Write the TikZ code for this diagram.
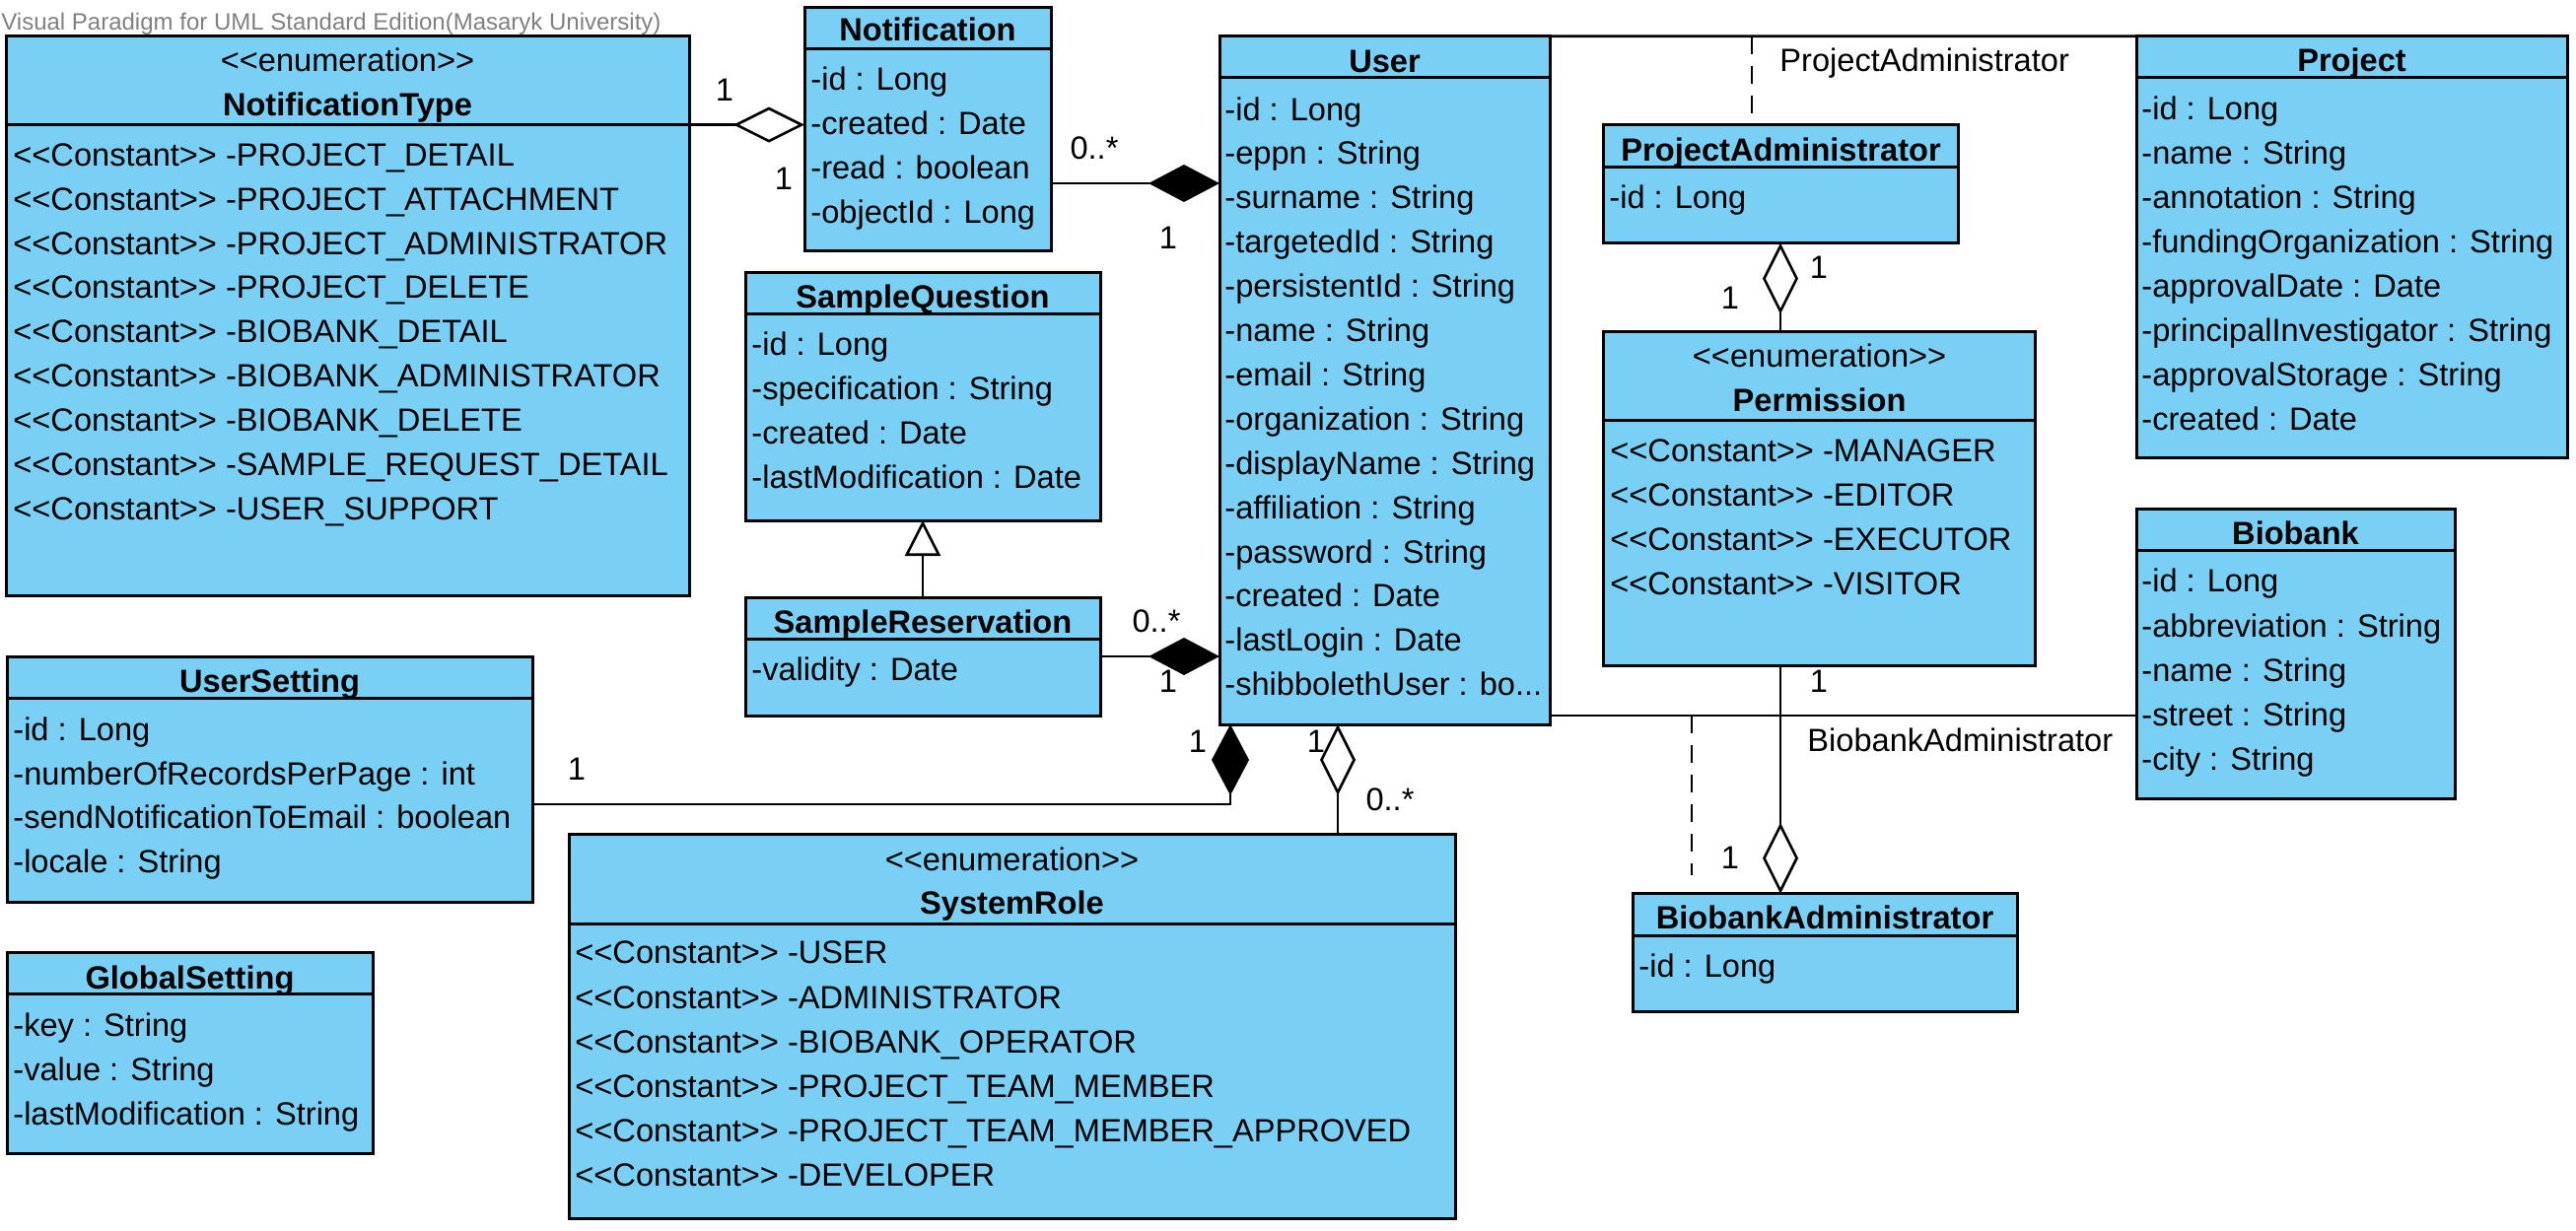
\documentclass[tikz,border=0pt]{standalone}
\usepackage{fontspec}
\setmainfont{Liberation Sans}[Ligatures=TeXOff]
\usetikzlibrary{arrows.meta,fit}
\definecolor{clsfill}{RGB}{122,207,245}
\definecolor{wmgray}{RGB}{128,128,128}
\newcommand\fs{\fontsize{16.3pt}{19pt}\selectfont}
\newcommand\classrows[5]{\foreach \t [count=\i from 0] in {#5} {\node[row] (#1\i) at (#2,{#3+#4*\i+11.5}) {\t};}}
\tikzset{
 cls/.style={draw=black, line width=1.5pt, fill=clsfill, inner sep=0pt, outer sep=0pt},
 sepline/.style={line width=1.5pt},
 row/.style={anchor=base west, inner sep=0pt, font=\fs},
 ttl/.style={anchor=base, inner sep=0pt, font=\fs\bfseries},
 ster/.style={anchor=base, inner sep=0pt, font=\fs},
 mult/.style={anchor=center, inner sep=0pt, font=\fs},
 alabel/.style={anchor=base west, inner sep=0pt, font=\fs},
 conn/.style={line width=1.3pt},
 odia/.style={conn, -{Diamond[open, length=36pt, width=18pt]}},
 fdia/.style={conn, -{Diamond[length=36pt, width=19pt]}},
 gen/.style={conn, -{Triangle[open, length=18pt, width=18pt]}},
 acls/.style={conn, dash pattern=on 9pt off 6pt},
}
\begin{document}
\begin{tikzpicture}[x=0.5pt, y=-0.5pt]
\useasboundingbox[fill=white] (0,0) rectangle (2613,1248);

\node[anchor=base west, inner sep=0pt, text=wmgray, font=\fontsize{12pt}{14pt}\selectfont] (wm) at (1,30) {Visual Paradigm for UML Standard Edition(Masaryk University)};

% ---------- boxes ----------
\node[cls, fit={(6,36.4) (699,604)}] (ntype) {};
\node[cls, fit={(816,7) (1066,254)}] (notif) {};
\node[cls, fit={(1237,36.7) (1572,735)}] (user) {};
\node[cls, fit={(756,276.5) (1116,528)}] (squest) {};
\node[cls, fit={(756,606) (1116,726)}] (sres) {};
\node[cls, fit={(7,666.5) (540,915.5)}] (uset) {};
\node[cls, fit={(7,966) (378,1170)}] (gset) {};
\node[cls, fit={(577,846.7) (1476,1236)}] (sysrole) {};
\node[cls, fit={(2167,36.7) (2604,464.4)}] (project) {};
\node[cls, fit={(1626.7,126.7) (1986.6,246.7)}] (projadmin) {};
\node[cls, fit={(1626.7,336.8) (2064.6,675.5)}] (perm) {};
\node[cls, fit={(2167,516.7) (2490,810)}] (biobank) {};
\node[cls, fit={(1656.4,906.7) (2046,1026.5)}] (badmin) {};

% header separators
\draw[sepline] (ntype.west |- 0,126.6) -- (ntype.east |- 0,126.6);
\draw[sepline] (notif.west |- 0,49) -- (notif.east |- 0,49);
\draw[sepline] (user.west |- 0,78.3) -- (user.east |- 0,78.3);
\draw[sepline] (squest.west |- 0,318.5) -- (squest.east |- 0,318.5);
\draw[sepline] (sres.west |- 0,648.5) -- (sres.east |- 0,648.5);
\draw[sepline] (uset.west |- 0,708) -- (uset.east |- 0,708);
\draw[sepline] (gset.west |- 0,1008) -- (gset.east |- 0,1008);
\draw[sepline] (sysrole.west |- 0,937) -- (sysrole.east |- 0,937);
\draw[sepline] (project.west |- 0,78.5) -- (project.east |- 0,78.5);
\draw[sepline] (projadmin.west |- 0,169) -- (projadmin.east |- 0,169);
\draw[sepline] (perm.west |- 0,426) -- (perm.east |- 0,426);
\draw[sepline] (biobank.west |- 0,558.6) -- (biobank.east |- 0,558.6);
\draw[sepline] (badmin.west |- 0,949) -- (badmin.east |- 0,949);

% ---------- titles ----------
\node[ster] (ntype-st) at (352.5,72.5) {<<enumeration>>};
\node[ttl] (ntype-t) at (352.5,117.5) {NotificationType};
\node[ttl] (notif-t) at (941,41.5) {Notification};
\node[ttl] (user-t) at (1404.5,73) {User};
\node[ttl] (squest-t) at (936,312.5) {SampleQuestion};
\node[ttl] (sres-t) at (936,642.5) {SampleReservation};
\node[ttl] (uset-t) at (273.5,702.5) {UserSetting};
\node[ttl] (gset-t) at (192.5,1003) {GlobalSetting};
\node[ster] (sysrole-st) at (1026.5,883) {<<enumeration>>};
\node[ttl] (sysrole-t) at (1026.5,927.5) {SystemRole};
\node[ttl] (project-t) at (2385.5,72.5) {Project};
\node[ttl] (projadmin-t) at (1806.6,163) {ProjectAdministrator};
\node[ster] (perm-st) at (1845.6,372.5) {<<enumeration>>};
\node[ttl] (perm-t) at (1845.6,417.5) {Permission};
\node[ttl] (biobank-t) at (2328.5,552.5) {Biobank};
\node[ttl] (badmin-t) at (1851,942) {BiobankAdministrator};

% ---------- rows ----------
\classrows{ntr}{13}{156.7}{44.9}{<<Constant>> -PROJECT\_DETAIL, <<Constant>> -PROJECT\_ATTACHMENT, <<Constant>> -PROJECT\_ADMINISTRATOR, <<Constant>> -PROJECT\_DELETE, <<Constant>> -BIOBANK\_DETAIL, <<Constant>> -BIOBANK\_ADMINISTRATOR, <<Constant>> -BIOBANK\_DELETE, <<Constant>> -SAMPLE\_REQUEST\_DETAIL, <<Constant>> -USER\_SUPPORT}
\classrows{nor}{822}{80}{45}{-id : Long, -created : Date, -read : boolean, -objectId : Long}
\classrows{usr}{1242}{110.5}{44.9}{-id : Long, -eppn : String, -surname : String, -targetedId : String, -persistentId : String, -name : String, -email : String, -organization : String, -displayName : String, -affiliation : String, -password : String, -created : Date, -lastLogin : Date, -shibbolethUser : bo.{}.{}.}
\classrows{sqr}{762}{349}{45}{-id : Long, -specification : String, -created : Date, -lastModification : Date}
\classrows{srr}{762}{679}{45}{-validity : Date}
\classrows{ust}{13}{740}{44.7}{-id : Long, -numberOfRecordsPerPage : int, -sendNotificationToEmail : boolean, -locale : String}
\classrows{gsr}{13}{1040}{44.8}{-key : String, -value : String, -lastModification : String}
\classrows{syr}{583}{966.4}{45.1}{<<Constant>> -USER, <<Constant>> -ADMINISTRATOR, <<Constant>> -BIOBANK\_OPERATOR, <<Constant>> -PROJECT\_TEAM\_MEMBER, <<Constant>> -PROJECT\_TEAM\_MEMBER\_APPROVED, <<Constant>> -DEVELOPER}
\classrows{prr}{2172}{109.8}{45}{-id : Long, -name : String, -annotation : String, -fundingOrganization : String, -approvalDate : Date, -principalInvestigator : String, -approvalStorage : String, -created : Date}
\classrows{par}{1632}{200}{45}{-id : Long}
\classrows{per}{1633}{456.6}{45.1}{<<Constant>> -MANAGER, <<Constant>> -EDITOR, <<Constant>> -EXECUTOR, <<Constant>> -VISITOR}
\classrows{bbr}{2172}{589.4}{45.1}{-id : Long, -abbreviation : String, -name : String, -street : String, -city : String}
\classrows{bar}{1662}{980}{45}{-id : Long}

% ---------- connectors ----------
% NotificationType -- Notification (aggregation)
\draw[odia] (ntype.east |- 0,126.6) -- (notif.west |- 0,126.6);
\node[mult] (m1a) at (735,91) {1};
\node[mult] (m1b) at (795,181) {1};

% Notification -- User (composition)
\draw[fdia] (notif.east |- 0,186) -- (user.west |- 0,186);
\node[mult] (m2a) at (1110,150) {0..*};
\node[mult] (m2b) at (1185,241) {1};

% SampleReservation -> SampleQuestion (generalization)
\draw[gen] (936,0 |- sres.north) -- (936,0 |- squest.south);

% SampleReservation -- User (composition)
\draw[fdia] (sres.east |- 0,666) -- (user.west |- 0,666);
\node[mult] (m4a) at (1173,630) {0..*};
\node[mult] (m4b) at (1185,691) {1};

% UserSetting -- User (composition)
\draw[fdia] (uset.east |- 0,816) -| (1248,0 |- user.south);
\node[mult] (m5a) at (585,780) {1};
\node[mult] (m5b) at (1215,752) {1};

% SystemRole -- User (aggregation)
\draw[odia] (1357,0 |- sysrole.north) -- (1357,0 |- user.south);
\node[mult] (m6a) at (1335,752) {1};
\node[mult] (m6b) at (1410,811) {0..*};

% User -- Project with association class ProjectAdministrator
\draw[conn] (user.north east) -- (project.north west);
\coordinate (pac) at (1777,36.7);
\draw[acls] (pac) -- (pac |- projadmin.north);
\node[alabel] (pal) at (1805,72.5) {ProjectAdministrator};

% User -- Biobank with association class BiobankAdministrator
\draw[conn] (user.east |- 0,726) -- (biobank.west |- 0,726);
\coordinate (bac) at (1716,726);
\coordinate (bae) at (1716,888);
\draw[acls] (bac) -- (bae);
\node[alabel] (bal) at (1833,762.5) {BiobankAdministrator};

% Permission -- ProjectAdministrator (aggregation)
\draw[odia] (1806,0 |- perm.north) -- (1806,0 |- projadmin.south);
\node[mult] (m9a) at (1845,271) {1};
\node[mult] (m9b) at (1755,302) {1};

% Permission -- BiobankAdministrator (aggregation)
\draw[odia] (1806,0 |- perm.south) -- (1806,0 |- badmin.north);
\node[mult] (m10a) at (1845,691) {1};
\node[mult] (m10b) at (1755,870) {1};
\end{tikzpicture}
\end{document}
